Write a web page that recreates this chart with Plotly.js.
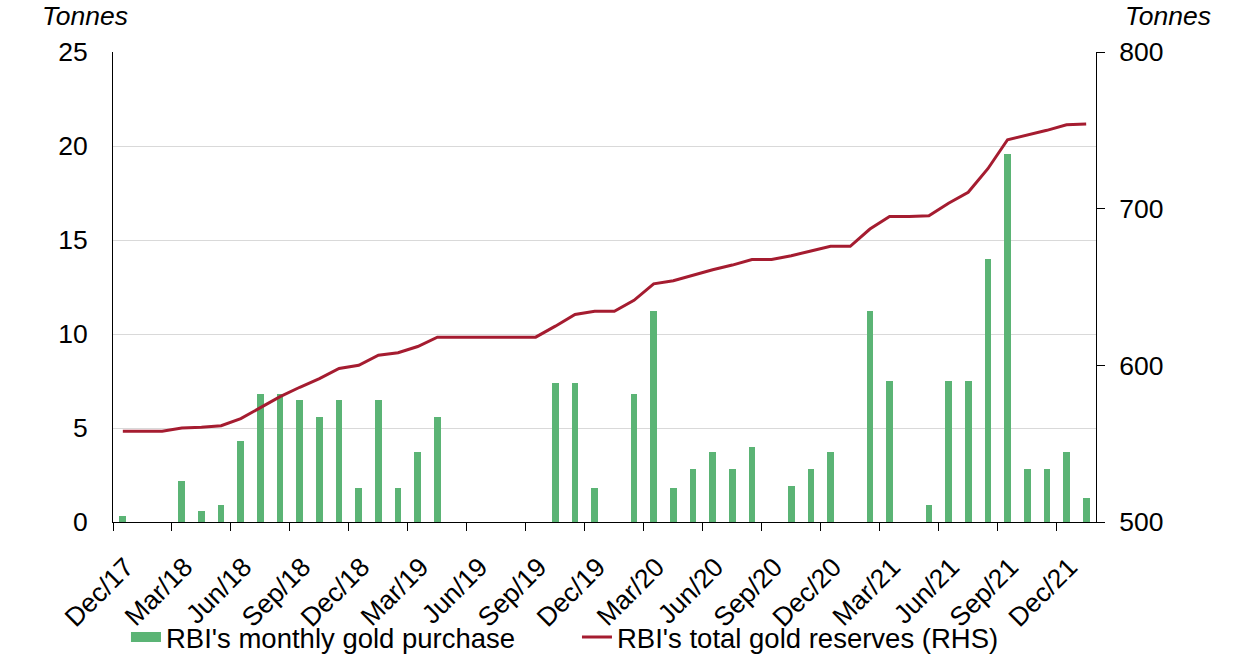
<!DOCTYPE html>
<html>
<head>
<meta charset="utf-8">
<script src="https://cdn.plot.ly/plotly-3.0.1.min.js"></script>
<style>
  html, body { margin: 0; padding: 0; background: #ffffff; }
  #chart { width: 1238px; height: 658px; }
</style>
</head>
<body>
<div id="chart"></div>
<script>
// Months (categories)
const months = [
  "Dec/17",
  "Jan/18","Feb/18","Mar/18","Apr/18","May/18","Jun/18","Jul/18","Aug/18","Sep/18","Oct/18","Nov/18","Dec/18",
  "Jan/19","Feb/19","Mar/19","Apr/19","May/19","Jun/19","Jul/19","Aug/19","Sep/19","Oct/19","Nov/19","Dec/19",
  "Jan/20","Feb/20","Mar/20","Apr/20","May/20","Jun/20","Jul/20","Aug/20","Sep/20","Oct/20","Nov/20","Dec/20",
  "Jan/21","Feb/21","Mar/21","Apr/21","May/21","Jun/21","Jul/21","Aug/21","Sep/21","Oct/21","Nov/21","Dec/21",
  "Jan/22"
];

// RBI's monthly gold purchase (tonnes, left axis)
const monthlyPurchase = [
  0.3,
  0, 0, 2.2, 0.6, 0.9, 4.3, 6.8, 6.8, 6.5, 5.6, 6.5, 1.8,
  6.5, 1.8, 3.7, 5.6, 0, 0, 0, 0, 0, 7.4, 7.4, 1.8,
  0, 6.8, 11.2, 1.8, 2.8, 3.7, 2.8, 4.0, 0, 1.9, 2.8, 3.7,
  0, 11.2, 7.5, 0, 0.9, 7.5, 7.5, 14.0, 19.6, 2.8, 2.8, 3.7,
  1.3
];

// RBI's total gold reserves (tonnes, right axis)
const totalReserves = [
  558,
  558, 558, 560, 560.5, 561.5, 566, 573, 580, 586, 591.5, 598, 600,
  606.5, 608, 612, 618, 618, 618, 618, 618, 618, 625, 632.5, 634.5,
  634.5, 641.5, 652, 654, 657.5, 661, 664, 667.5, 667.5, 670, 673, 676,
  676, 687, 695, 695, 695.5, 703.5, 710.5, 725.5, 744, 747, 750, 753.5,
  754
];

// Labelled months on the x axis (every third month)
const labelledMonths = ["Dec/17","Mar/18","Jun/18","Sep/18","Dec/18","Mar/19","Jun/19","Sep/19",
  "Dec/19","Mar/20","Jun/20","Sep/20","Dec/20","Mar/21","Jun/21","Sep/21","Dec/21"];

const seriesNames = ["RBI's monthly gold purchase", "RBI's total gold reserves (RHS)"];
const axisUnit = "Tonnes";

const BAR_COLOR = "#5bb475";
const LINE_COLOR = "#a51c30";

const xIdx = months.map((m, i) => i);
const labelIdx = labelledMonths.map(m => months.indexOf(m));
const boundaryIdx = labelIdx.map(i => i - 0.5);

const FONT = "Arial, 'Liberation Sans', sans-serif";
const FS = 26.5;

const traces = [
  {
    type: "bar",
    name: seriesNames[0],
    x: xIdx,
    y: monthlyPurchase,
    width: 0.34,
    marker: { color: BAR_COLOR, line: { width: 0 } },
    yaxis: "y",
    showlegend: false,
    legendgroup: "purchase",
    hoverinfo: "skip"
  },
  {
    // legend swatch for the bar series (wide green block, as in the original)
    type: "scatter",
    mode: "lines",
    name: seriesNames[0],
    x: [null],
    y: [null],
    line: { color: BAR_COLOR, width: 14 },
    yaxis: "y",
    legendgroup: "purchase",
    hoverinfo: "skip"
  },
  {
    type: "scatter",
    mode: "lines",
    name: seriesNames[1],
    x: xIdx,
    y: totalReserves,
    line: { color: LINE_COLOR, width: 3 },
    yaxis: "y2",
    hoverinfo: "skip"
  }
];

const layout = {
  width: 1238,
  height: 658,
  margin: { l: 113, r: 142, t: 52, b: 136, pad: 0, autoexpand: false },
  paper_bgcolor: "#ffffff",
  plot_bgcolor: "#ffffff",
  font: { family: FONT, size: FS, color: "#000000" },
  showlegend: true,
  bargap: 0,
  xaxis: {
    range: [-0.5, 49.5],
    tickmode: "array",
    tickvals: labelIdx,
    ticktext: labelledMonths,
    tickangle: -45,
    ticks: "outside",
    ticklen: 8,
    tickcolor: "rgba(0,0,0,0)",
    minor: {
      tickmode: "array",
      tickvals: boundaryIdx,
      ticks: "outside",
      ticklen: 8,
      tickwidth: 1,
      tickcolor: "#000000",
      showgrid: false
    },
    showline: true,
    linecolor: "#000000",
    linewidth: 1,
    showgrid: false,
    zeroline: false,
    ticklabelstandoff: 10,
    ticklabelshift: 3,
    automargin: false,
    fixedrange: true,
    tickfont: { family: FONT, size: FS, color: "#000000" }
  },
  yaxis: {
    range: [0, 25],
    tickmode: "linear",
    tick0: 0,
    dtick: 5,
    ticks: "",
    showline: true,
    linecolor: "#000000",
    linewidth: 1,
    showgrid: true,
    gridcolor: "#d9d9d9",
    gridwidth: 1,
    zeroline: false,
    ticklabelstandoff: 19,
    automargin: false,
    fixedrange: true,
    tickfont: { family: FONT, size: FS, color: "#000000" }
  },
  yaxis2: {
    range: [500, 800],
    tickmode: "linear",
    tick0: 500,
    dtick: 100,
    overlaying: "y",
    side: "right",
    anchor: "x",
    ticks: "outside",
    ticklen: 8,
    tickcolor: "#000000",
    tickwidth: 1,
    showline: true,
    linecolor: "#000000",
    linewidth: 1,
    showgrid: false,
    zeroline: false,
    ticklabelstandoff: 9,
    automargin: false,
    fixedrange: true,
    tickfont: { family: FONT, size: FS, color: "#000000" }
  },
  legend: {
    orientation: "h",
    x: 0.0132,
    xanchor: "left",
    y: -0.245,
    yanchor: "middle",
    font: { family: FONT, size: 27.5, color: "#000000" },
    entrywidth: 406,
    entrywidthmode: "pixels",
    bgcolor: "rgba(0,0,0,0)",
    borderwidth: 0,
    traceorder: "normal"
  },
  annotations: [
    {
      text: "<i>" + axisUnit + "</i>",
      xref: "paper", yref: "paper",
      x: -0.0285, y: 1.0766,
      xanchor: "center", yanchor: "middle",
      showarrow: false,
      font: { family: FONT, size: FS, color: "#000000" }
    },
    {
      text: "<i>" + axisUnit + "</i>",
      xref: "paper", yref: "paper",
      x: 1.0728, y: 1.0766,
      xanchor: "center", yanchor: "middle",
      showarrow: false,
      font: { family: FONT, size: FS, color: "#000000" }
    }
  ]
};

Plotly.newPlot("chart", traces, layout, { displayModeBar: false, staticPlot: true });
</script>
</body>
</html>
